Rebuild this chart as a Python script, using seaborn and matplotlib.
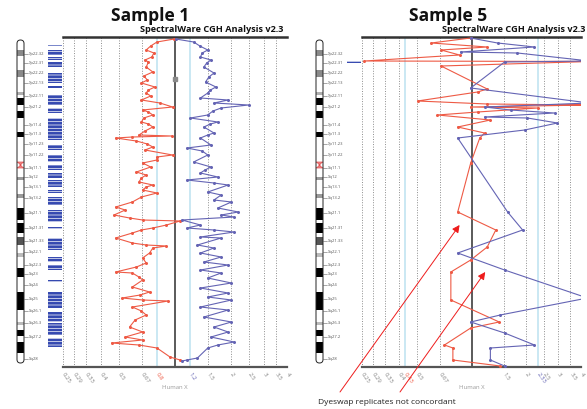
import numpy as np
import pandas as pd
import matplotlib
matplotlib.use("Agg")
import matplotlib.pyplot as plt
import seaborn as sns
from matplotlib.patches import FancyBboxPatch, Rectangle, Polygon
from matplotlib.ticker import NullLocator

# ---------------- data ----------------
# ratio ticks (log-symmetric) ; position along chrX in arbitrary units (0 = pter, 330 = qter)
tick_vals_s1 = [0.25, 0.286, 0.333, 0.4, 0.5, 0.667, 0.8, 1.2, 1.5, 2, 2.5, 3, 3.5, 4]
tick_labs_s1 = ["0.25", "0.29", "0.33", "0.4", "0.5", "0.67", "0.8", "1.2", "1.5", "2", "2.5", "3", "3.5", "4"]
thresh_s1 = [0.8, 1.2]
tick_vals_s5 = [0.25, 0.286, 0.333, 0.4, 0.43, 0.5, 0.667, 1.5, 2, 2.33, 2.5, 3, 3.5, 4]
tick_labs_s5 = ["0.25", "0.29", "0.33", "0.4", "0.43", "0.5", "0.67", "1.5", "2", "2.33", "2.5", "3", "3.5", "4"]
thresh_s5 = [0.43, 2.33]

s1_red_ratio = [0.99, 0.80, 0.74, 0.70, 0.77, 0.75, 0.69, 0.72, 0.70, 0.76, 0.68, 0.71, 0.66, 0.78, 0.72,
                0.70, 0.74, 0.66, 0.83, 0.97, 0.67, 0.72, 0.76, 0.68, 0.66, 0.72, 0.76, 0.69, 0.64, 0.96,
                0.59, 0.48, 0.62, 0.71, 0.76, 0.69, 0.97, 0.80, 0.80, 0.67, 0.74, 0.62, 0.70, 0.66, 0.64,
                0.76, 0.70, 0.67, 0.80, 0.66, 0.59, 0.48, 0.54, 0.47, 0.57, 0.67, 1.065, 0.90, 0.76, 0.66,
                0.59, 0.48, 0.59, 0.70, 0.90, 0.76, 0.73, 0.67, 0.70, 0.62, 0.48, 0.59, 0.64, 0.67, 0.59,
                0.73, 0.65, 0.52, 0.67, 0.92, 0.59, 0.66, 0.70, 0.61, 0.57, 0.67, 0.54, 0.67, 0.456, 0.64,
                0.80, 0.94, 1.065]
s1_red_pos = [2, 5, 9, 13, 16, 20, 23, 25, 30, 35, 39, 43, 46, 50, 53,
              56, 59, 63, 66, 70, 73, 75, 78, 81, 85, 87, 90, 94, 98, 99,
              100, 101, 104, 107, 110, 113, 118, 120, 123, 126, 130, 135, 138, 141, 145,
              148, 150, 153, 156, 160, 165, 170, 173, 178, 181, 183, 184, 188, 191, 193,
              196, 201, 206, 208, 209, 211, 216, 221, 226, 230, 235, 236, 240, 243, 250,
              255, 258, 261, 263, 264, 270, 274, 278, 283, 290, 295, 300, 303, 306, 308,
              311, 320, 323]

s1_blue_ratio = [1.01, 1.26, 1.36, 1.50, 1.40, 1.37, 1.56, 1.48, 1.43, 1.62, 1.52, 1.46, 1.66, 1.55, 1.50,
                 1.37, 1.93, 1.62, 2.49, 1.77, 1.60, 1.50, 1.21, 1.70, 1.55, 1.43, 1.62, 1.50, 1.37, 1.56,
                 1.16, 1.40, 1.50, 1.26, 1.56, 1.45, 1.37, 1.70, 1.16, 1.62, 1.93, 1.50, 1.77, 1.62, 2.01,
                 1.70, 2.19, 1.77, 2.08, 1.09, 1.37, 1.16, 1.62, 2.08, 1.37, 1.77, 1.32, 1.62, 1.37, 1.77,
                 1.43, 1.93, 1.37, 1.77, 1.50, 2.01, 1.37, 1.93, 1.50, 2.01, 1.37, 1.93, 1.43, 2.01, 1.62,
                 1.93, 1.56, 2.08, 1.70, 1.50, 1.32, 1.16, 1.09]
s1_blue_pos = [2, 5, 9, 13, 16, 20, 23, 26, 30, 36, 40, 45, 50, 53, 56,
               61, 63, 66, 68, 71, 74, 78, 81, 85, 87, 90, 96, 98, 101, 108,
               111, 114, 118, 125, 130, 133, 136, 140, 143, 146, 148, 155, 158, 163, 165,
               171, 175, 178, 180, 183, 188, 191, 193, 195, 200, 201, 208, 211, 216, 220,
               225, 228, 233, 236, 241, 246, 251, 256, 260, 263, 270, 273, 280, 285, 290,
               295, 300, 305, 308, 311, 321, 323, 324]

s5_red_ratio = [0.99, 0.60, 1.22, 0.68, 0.86, 0.258, 4.45, 0.68, 1.22, 1.08, 0.505, 1.22, 4.45, 0.99, 2.31,
                1.08, 0.65, 1.27, 0.84, 1.18, 1.11, 0.99, 0.84, 1.36, 1.22, 0.99, 0.77, 0.77, 1.42, 0.99,
                0.71, 0.79, 0.79, 1.44]
s5_red_pos = [1, 6, 10, 13, 18, 24, 24.5, 29, 52, 55, 64, 67, 68, 70, 71,
              75, 78, 83, 90, 96, 101, 126, 175, 193, 210, 223, 235, 263, 285, 291,
              308, 311, 323, 329]

s5_blue_ratio = [0.99, 1.39, 2.22, 0.87, 1.79, 4.45, 1.52, 0.99, 4.45, 1.18, 1.64, 2.86, 1.18, 2.03, 2.97,
                 1.96, 0.84, 1.58, 1.91, 0.84, 1.52, 4.34, 1.44, 0.99, 1.52, 2.22, 1.27, 1.27, 1.52]
s5_blue_pos = [1, 6, 10, 15, 16, 24, 25, 51, 66, 70, 73, 76, 80, 81, 86,
               93, 101, 175, 193, 216, 233, 261, 278, 285, 296, 308, 311, 323, 329]

# small grey reference marker on the Sample 1 centre line
s1_marker_ratio = [1.0]
s1_marker_pos = [42]

# ideogram (chrX) bands: start, end, shade
band_start = [13, 33, 55, 61, 74, 95, 140, 157, 171, 186, 200, 216, 231, 255, 285, 293, 305]
band_end = [19, 40, 58, 68, 81, 100, 143, 161, 183, 196, 208, 220, 240, 273, 288, 299, 316]
band_shade = ["#8a8a8a", "#8a8a8a", "#b0b0b0", "black", "black", "black", "#9a9a9a", "#9a9a9a",
              "black", "black", "#555555", "#bbbbbb", "black", "black", "#bbbbbb", "black", "black"]
centromere = [125, 131]
band_names = ["Xp22.32", "Xp22.31", "Xp22.22", "Xp22.13", "Xp22.11", "Xp21.2", "Xp11.4", "Xp11.3",
              "Xp11.23", "Xp11.22", "Xq11.1", "Xq12", "Xq13.1", "Xq13.2", "Xq21.1", "Xq21.31",
              "Xq21.33", "Xq22.1", "Xq22.3", "Xq23", "Xq24", "Xq25", "Xq26.1", "Xq26.3", "Xq27.2", "Xq28"]
band_label_pos = [17, 26, 36, 46, 59, 70, 88, 97, 107, 118, 131, 140, 150, 161, 176, 191,
                  204, 215, 228, 237, 248, 262, 274, 286, 300, 322]

# BAC clones on the array (start, end)
s1_clone_start = [8, 13, 20, 25, 36, 49, 58, 71, 81, 108, 118, 128, 136, 143, 153, 160, 173, 190,
                  201, 220, 228, 243, 255, 275, 286, 301]
s1_clone_end = [9.5, 18, 23, 30, 46, 51, 68, 76, 103, 113, 125, 133, 141, 150, 156, 168, 185, 192,
                213, 225, 233, 244.5, 271, 285, 298, 310]
s5_clone_start = [24]
s5_clone_end = [26]

# ---------------- style ----------------
sns.set_theme(style="white")
plt.rcParams["font.family"] = ["Open Sans", "DejaVu Sans"]
plt.rcParams["hatch.linewidth"] = 0.5

RED = "#ee5a45"
BLUE = "#6464b4"
CLONE = "#3549b0"
W, H = 587, 409

fig = plt.figure(figsize=(W / 100, H / 100), dpi=100)
fig.patch.set_facecolor("white")


def px_axes(x0, y0, x1, y1):
    return fig.add_axes([x0 / W, 1 - y1 / H, (x1 - x0) / W, (y1 - y0) / H])


def draw_ideogram(ax, clone_start, clone_end):
    ax.set_xlim(0, 63)
    ax.set_ylim(330, 0)
    ax.axis("off")
    x0, x1, top, bot = 17, 24, 3, 326
    outline = FancyBboxPatch((x0, top), x1 - x0, bot - top,
                             boxstyle="round,pad=0,rounding_size=3.5",
                             fc="white", ec="#222222", lw=0.7, zorder=3)
    ax.add_patch(outline)
    for s, e, c in zip(band_start, band_end, band_shade):
        r = Rectangle((x0, s), x1 - x0, e - s, fc=c, ec="none", zorder=2.5)
        ax.add_patch(r)
        r.set_clip_path(outline)
    cs, ce = centromere
    cen = Polygon([(x0, cs), (x1, cs), (x0 + 2.5, (cs + ce) / 2), (x1, ce), (x0, ce),
                   (x1 - 2.5, (cs + ce) / 2)], closed=True, fc="#f08a8a", ec="#e05050", lw=0.5, zorder=4)
    ax.add_patch(cen)
    outline.set_facecolor("none")
    outline.set_zorder(5)
    for name, p in zip(band_names, band_label_pos):
        ax.plot([x1, x1 + 4], [p, p], color="#666666", lw=0.4, zorder=4)
        ax.text(x1 + 4.5, p, name, fontsize=3.0, color="#555555", va="center", ha="left")
    for s, e in zip(clone_start, clone_end):
        ax.add_patch(Rectangle((48, s), 14, e - s, fc=CLONE, ec="white", lw=0,
                               hatch="-----", zorder=3))


def draw_panel(ax, red_r, red_p, blue_r, blue_p, tvals, tlabs, thresh):
    ax.set_xscale("log")
    ax.set_facecolor("white")
    for t in tvals:
        if t not in thresh:
            ax.axvline(t, color="#8c8c8c", lw=0.7, ls=(0, (1, 1.6)), zorder=1)
    for t in thresh:
        ax.axvline(t, color="#c6e6f2", lw=1.3, zorder=1)
    ax.axvline(1.0, color="#5a5a5a", lw=1.4, zorder=2)
    df_r = pd.DataFrame({"ratio": red_r, "pos": red_p})
    df_b = pd.DataFrame({"ratio": blue_r, "pos": blue_p})
    sns.lineplot(data=df_r, x="ratio", y="pos", sort=False, estimator=None, color=RED,
                 lw=0.8, marker="o", markersize=2.2, markeredgewidth=0, ax=ax, legend=False, zorder=3)
    sns.lineplot(data=df_b, x="ratio", y="pos", sort=False, estimator=None, color=BLUE,
                 lw=0.8, marker="o", markersize=2.2, markeredgewidth=0, ax=ax, legend=False, zorder=3)
    ax.set_xlim(0.25, 4.0)
    ax.set_ylim(330, 0)
    ax.set_xlabel("")
    ax.set_ylabel("")
    ax.set_yticks([])
    ax.xaxis.set_minor_locator(NullLocator())
    ax.set_xticks(tvals)
    ax.set_xticklabels(tlabs, rotation=-55, rotation_mode="anchor", ha="left", va="center",
                       fontsize=4.3, color="#808080")
    for lab, v in zip(ax.get_xticklabels(), tvals):
        if v == thresh[0]:
            lab.set_color(RED)
        elif v == thresh[1]:
            lab.set_color(BLUE)
    ax.tick_params(axis="x", length=2, width=0.6, color="#555555", pad=2.5)
    for side in ["left", "right"]:
        ax.spines[side].set_visible(False)
    ax.spines["top"].set_linewidth(1.8)
    ax.spines["top"].set_color("#333333")
    ax.spines["bottom"].set_linewidth(1.6)
    ax.spines["bottom"].set_color("#555555")
    ax.text(0.5, -0.055, "Human X", transform=ax.transAxes, ha="center", va="top",
            fontsize=4.3, color="#9a9a9a")


# Sample 1
ideo1 = px_axes(0, 37, 63, 367)
draw_ideogram(ideo1, s1_clone_start, s1_clone_end)
ax1 = px_axes(63, 37, 287, 367)
draw_panel(ax1, s1_red_ratio, s1_red_pos, s1_blue_ratio, s1_blue_pos, tick_vals_s1, tick_labs_s1, thresh_s1)
ax1.plot(s1_marker_ratio, s1_marker_pos, marker="s", color="#8a8a8a", ms=2.6, ls="none", zorder=4)

# Sample 5
ideo5 = px_axes(299, 37, 362, 367)
draw_ideogram(ideo5, s5_clone_start, s5_clone_end)
ax5 = px_axes(362, 37, 581, 367)
draw_panel(ax5, s5_red_ratio, s5_red_pos, s5_blue_ratio, s5_blue_pos, tick_vals_s5, tick_labs_s5, thresh_s5)

# titles
fig.text(150 / W, 1 - 16 / H, "Sample 1", fontsize=12.5, fontweight="bold", ha="center", va="center", color="#111111")
fig.text(283 / W, 1 - 30 / H, "SpectralWare CGH Analysis v2.3", fontsize=6.6, fontweight="bold",
         ha="right", va="center", color="#111111")
fig.text(448 / W, 1 - 16 / H, "Sample 5", fontsize=12.5, fontweight="bold", ha="center", va="center", color="#111111")
fig.text(585 / W, 1 - 30 / H, "SpectralWare CGH Analysis v2.3", fontsize=6.6, fontweight="bold",
         ha="right", va="center", color="#111111")

# annotation
fig.text(318 / W, 1 - 403 / H, "Dyeswap replicates not concordant", fontsize=6, ha="left", va="center",
         color="#222222")
arrow_kw = dict(arrowstyle="-|>", color="#ee1c1c", lw=0.7, mutation_scale=11, shrinkA=0, shrinkB=0)
ax5.annotate("", xy=(0.86, 188), xycoords="data", xytext=(340 / W, 1 - 392 / H),
             textcoords="figure fraction", arrowprops=arrow_kw, annotation_clip=False)
ax5.annotate("", xy=(1.19, 235), xycoords="data", xytext=(400 / W, 1 - 392 / H),
             textcoords="figure fraction", arrowprops=arrow_kw, annotation_clip=False)

fig.savefig("out.png", dpi=100, facecolor="white")
